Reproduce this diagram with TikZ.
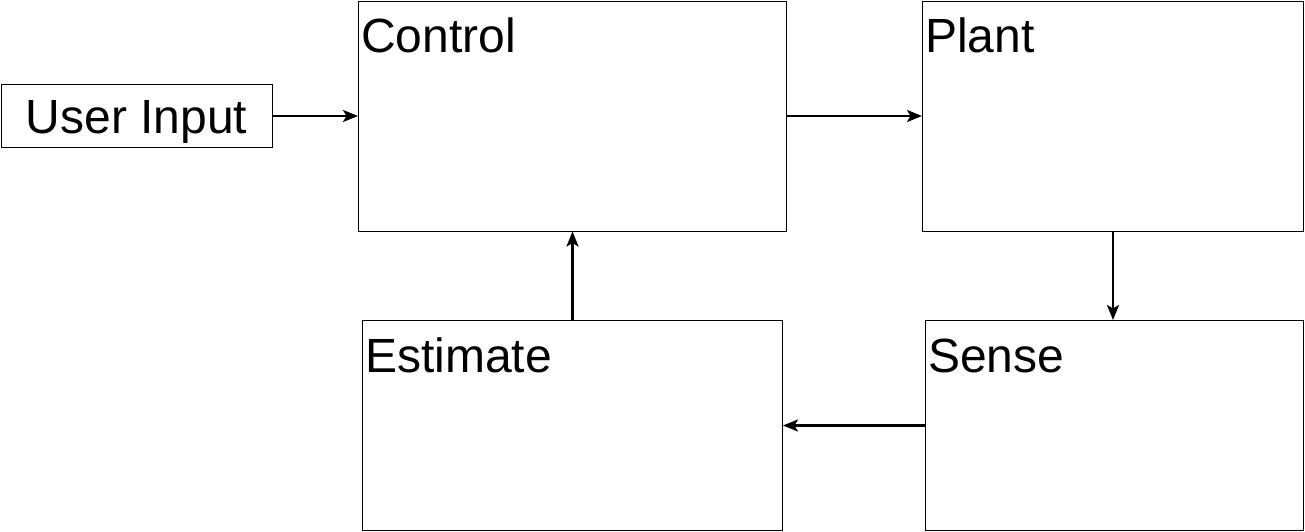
\documentclass[tikz,border=0pt]{standalone}
\usepackage{fontspec}
\setmainfont{Liberation Sans}
\usepackage{tikz}
\usetikzlibrary{arrows.meta, positioning, calc}

\tikzset{
    blk/.style={draw, line width=1pt, rectangle, anchor=north west, inner sep=0pt},
    ttl/.style={anchor=base west, inner sep=0pt, font=\fontsize{48}{56}\selectfont},
    flow/.style={line width=2.5pt, -{Stealth[length=15pt, width=12pt, inset=3.5pt]}}
}

\begin{document}
\begin{tikzpicture}[x=1pt, y=-1pt]
        \useasboundingbox (0,0) rectangle (1305,531);

        % Blocks
        \node[blk, minimum width=271pt, minimum height=63pt] (user) at (0.5,84) {};
        \node[blk, minimum width=428pt, minimum height=230pt] (ctrl) at (358,0.5) {};
        \node[blk, minimum width=381pt, minimum height=230pt] (plant) at (922,0.5) {};
        \node[blk, minimum width=420pt, minimum height=210pt] (est) at (362,320) {};
        \node[blk, minimum width=378pt, minimum height=210pt] (sense) at (925,320) {};

        % Labels
        \node[ttl, anchor=base] (userlbl) at ($(user.center)+(0,17)$) {User Input};
        \node[ttl] (ctrllbl) at ($(ctrl.north west)+(3,52)$) {Control};
        \node[ttl] (plantlbl) at ($(plant.north west)+(3,52)$) {Plant};
        \node[ttl] (estlbl) at ($(est.north west)+(3,52)$) {Estimate};
        \node[ttl] (senselbl) at ($(sense.north west)+(3,52)$) {Sense};

        % Arrows
        \draw[flow] (user.east) -- (ctrl.west);
        \draw[flow] (ctrl.east) -- (plant.west);
        \draw[flow] (plant.south) -- (plant.south |- sense.north);
        \draw[flow] (sense.west) -- (sense.west -| est.east);
        \draw[flow] (est.north) -- (ctrl.south);
    \end{tikzpicture}
\end{document}
